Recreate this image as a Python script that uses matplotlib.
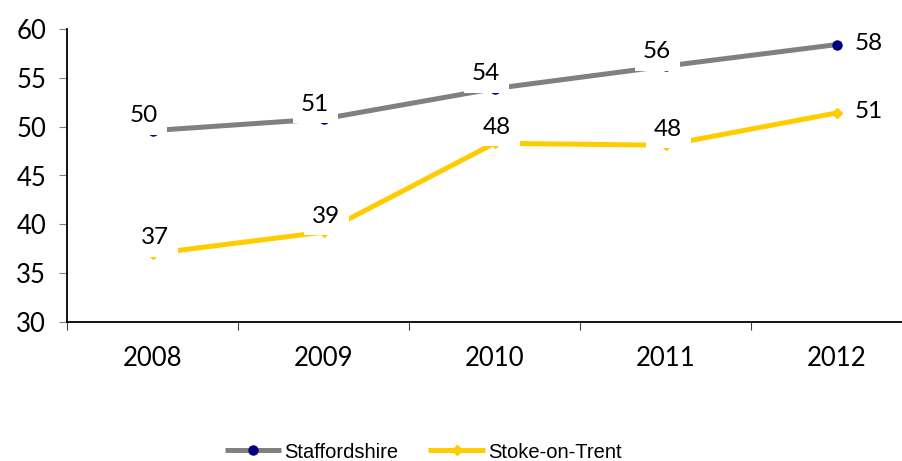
import matplotlib
matplotlib.use('Agg')
import matplotlib.pyplot as plt

# Values per year
years = ['2008', '2009', '2010', '2011', '2012']
staffordshire = [49.6, 50.8, 53.9, 56.2, 58.4]
stoke = [37.0, 39.2, 48.3, 48.1, 51.4]

GREY = '#808080'
NAVY = '#000080'
YELLOW = '#FFCC00'
LABEL_FONT = 'Lato'

fig = plt.figure(figsize=(9.03, 4.61), dpi=100)
ax = fig.add_axes([67/903, 139/461, 855/903, 293/461])

x = list(range(len(years)))
ax.plot(x, staffordshire, color=GREY, lw=3.6, marker='o', ms=6.5,
        mfc=NAVY, mec=NAVY, label='Staffordshire', zorder=3, solid_capstyle='butt')
ax.plot(x, stoke, color=YELLOW, lw=3.6, marker='D', ms=5.5,
        mfc=YELLOW, mec=YELLOW, label='Stoke-on-Trent', zorder=3, solid_capstyle='butt')

# data labels with white boxes, the last year sits to the right of the point
def put_labels(vals, dx, dy):
    for i, v in enumerate(vals):
        if i == len(vals) - 1:
            off, box = (23, 1), dict(fc='none', ec='none')
        else:
            off, box = (dx, dy), dict(boxstyle='square,pad=0.35', fc='white', ec='none')
        ax.annotate(f'{v:.0f}', (i, v), xytext=off, textcoords='offset points',
                    ha='center', va='center', fontsize=17.5, family=LABEL_FONT,
                    bbox=box, zorder=5)

put_labels(staffordshire, -6, 10.5)
put_labels(stoke, 2, 11.5)

ax.set_xlim(-0.5, 4.5)
ax.set_ylim(30, 60)
ax.set_yticks(range(30, 61, 5))
ax.set_xticks([i + 0.5 for i in range(-1, 5)], minor=False)
ax.set_xticklabels([])
ax.set_xticks(x, minor=True)
ax.set_xticklabels(years, minor=True)
ax.tick_params(axis='x', which='minor', length=0, pad=17, labelsize=18.5)
ax.tick_params(axis='x', which='major', length=6, color='#404040')
ax.tick_params(axis='y', length=6, color='#808080', pad=9, labelsize=18.5)
for lab in ax.get_xticklabels(minor=True) + ax.get_yticklabels():
    lab.set_family(LABEL_FONT)

for side in ('top', 'right'):
    ax.spines[side].set_visible(False)
for side in ('left', 'bottom'):
    ax.spines[side].set_linewidth(1.3)
    ax.spines[side].set_color('black')

fig.legend(loc='center', bbox_to_anchor=(423/903, 1 - 452/461), ncol=2, frameon=False,
           prop={'family': 'Liberation Sans', 'size': 14.5}, handlelength=2.8,
           handletextpad=0.15, columnspacing=1.5)

fig.savefig('out.png', dpi=100)
